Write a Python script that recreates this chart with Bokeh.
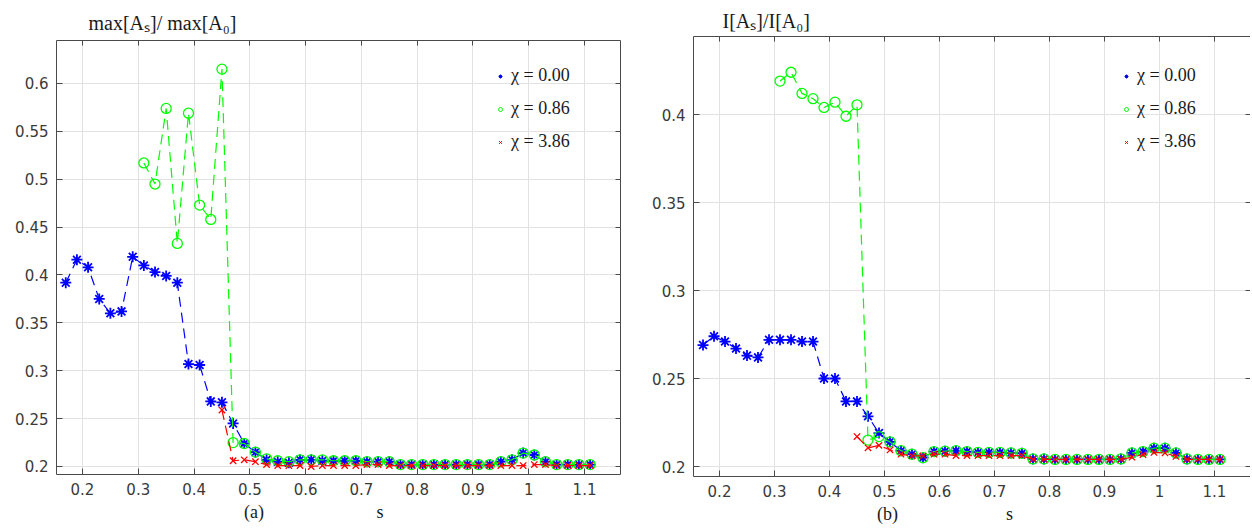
from bokeh.plotting import figure
from bokeh.models import (Range1d, LinearAxis, FixedTicker, CustomJSTickFormatter,
                          Legend, LegendItem)
from bokeh.layouts import row, column
from bokeh.embed import file_html
from bokeh.resources import INLINE

# ---------------- data ----------------
s_vals = [0.17, 0.19, 0.21, 0.23, 0.25, 0.27, 0.29, 0.31, 0.33, 0.35, 0.37, 0.39,
          0.41, 0.43, 0.45, 0.47, 0.49, 0.51, 0.53, 0.55, 0.57, 0.59, 0.61, 0.63,
          0.65, 0.67, 0.69, 0.71, 0.73, 0.75, 0.77, 0.79, 0.81, 0.83, 0.85, 0.87,
          0.89, 0.91, 0.93, 0.95, 0.97, 0.99, 1.01, 1.03, 1.05, 1.07, 1.09, 1.11]
s_green = s_vals[7:]    # starts at 0.31
s_red = s_vals[14:]     # starts at 0.45

# (a) max[A_s]/max[A_0]
a_blue = [0.392, 0.416, 0.408, 0.375, 0.360, 0.362, 0.419, 0.410, 0.403, 0.399, 0.392, 0.307,
          0.306, 0.268, 0.267, 0.245, 0.224, 0.215, 0.207, 0.205, 0.204, 0.207, 0.207, 0.206,
          0.206, 0.206, 0.206, 0.205, 0.205, 0.205, 0.202, 0.202, 0.202, 0.202, 0.202, 0.202,
          0.202, 0.202, 0.202, 0.205, 0.207, 0.214, 0.212, 0.205, 0.202, 0.202, 0.202, 0.202]
a_green = [0.517, 0.495, 0.574, 0.433, 0.569, 0.473, 0.458, 0.615, 0.225, 0.224, 0.215,
           0.208, 0.206, 0.205, 0.207, 0.207, 0.207, 0.206, 0.206, 0.206, 0.205, 0.205,
           0.205, 0.202, 0.202, 0.202, 0.202, 0.202, 0.202, 0.202, 0.202, 0.202, 0.205,
           0.207, 0.214, 0.212, 0.205, 0.202, 0.202, 0.202, 0.202]
a_red = [0.259, 0.206, 0.207, 0.205, 0.202, 0.201, 0.201, 0.201, 0.200, 0.201, 0.201, 0.201,
         0.201, 0.202, 0.202, 0.201, 0.201, 0.201, 0.201, 0.201, 0.201, 0.201, 0.201, 0.201,
         0.201, 0.201, 0.201, 0.201, 0.202, 0.202, 0.201, 0.201, 0.201, 0.201]

# (b) I[A_s]/I[A_0]
b_blue = [0.269, 0.274, 0.271, 0.267, 0.263, 0.262, 0.272, 0.272, 0.272, 0.271, 0.271, 0.250,
          0.250, 0.237, 0.237, 0.2285, 0.219, 0.214, 0.209, 0.207, 0.205, 0.2085, 0.2087, 0.209,
          0.2085, 0.208, 0.208, 0.208, 0.2077, 0.2075, 0.2043, 0.2043, 0.204, 0.204, 0.204, 0.204,
          0.204, 0.204, 0.2043, 0.2077, 0.2085, 0.2104, 0.2104, 0.2077, 0.2043, 0.204, 0.204, 0.204]
b_green = [0.419, 0.424, 0.412, 0.409, 0.404, 0.407, 0.399, 0.4055, 0.215, 0.217, 0.214,
           0.209, 0.207, 0.205, 0.2085, 0.2087, 0.209, 0.2085, 0.208, 0.208, 0.208, 0.2077,
           0.2075, 0.2043, 0.2043, 0.204, 0.204, 0.204, 0.204, 0.204, 0.204, 0.2043, 0.2077,
           0.2085, 0.2104, 0.2104, 0.2077, 0.2043, 0.204, 0.204, 0.204]
b_red = [0.217, 0.2106, 0.212, 0.2094, 0.207, 0.206, 0.206, 0.207, 0.207, 0.2062, 0.2062,
         0.2062, 0.2062, 0.2062, 0.2062, 0.2062, 0.204, 0.204, 0.204, 0.204, 0.204, 0.204,
         0.204, 0.204, 0.204, 0.2053, 0.2068, 0.208, 0.2077, 0.2057, 0.204, 0.204, 0.204, 0.204]

x_ticks = [0.2, 0.3, 0.4, 0.5, 0.6, 0.7, 0.8, 0.9, 1.0, 1.1]
a_yticks = [0.2, 0.25, 0.3, 0.35, 0.4, 0.45, 0.5, 0.55, 0.6]
b_yticks = [0.2, 0.25, 0.3, 0.35, 0.4]
legend_labels = ["χ = 0.00", "χ = 0.86", "χ = 3.86"]
titles = ["max[Aₛ]/ max[A₀]", "I[Aₛ]/I[A₀]"]
panel_tags = ["(a)", "(b)"]
x_name = "s"

BLUE, GREEN, RED = "#0000ff", "#00ff00", "#ff0000"
AXIS_C = "#4a4a4a"
TICK_C = "#3a3a3a"
GRID_C = "#e2e2e2"
SERIF = "Liberation Serif"
DASH = "10 6"
NB = "\u00a0"

fmt_code = "return String(Math.round(tick*100)/100);"


def make_panel(fw, fh, xr, yr, yticks, borders, ys, title, title_off, title_standoff,
               tag, gap_n, trail_n, legend_loc):
    bl, br, bt, bb = borders
    p = figure(frame_width=fw, frame_height=fh, x_range=Range1d(*xr), y_range=Range1d(*yr),
               output_backend="svg", toolbar_location=None,
               min_border_left=bl, min_border_right=br, min_border_top=bt,
               min_border_bottom=bb)
    p.outline_line_color = None
    p.background_fill_color = "white"
    p.border_fill_color = "white"

    for ax, ticks in ((p.xaxis[0], x_ticks), (p.yaxis[0], yticks)):
        ax.ticker = FixedTicker(ticks=ticks)
        ax.formatter = CustomJSTickFormatter(code=fmt_code)
        ax.major_tick_in = 6
        ax.major_tick_out = 0
        ax.minor_tick_line_color = None
        ax.axis_line_color = AXIS_C
        ax.axis_line_width = 1
        ax.major_tick_line_color = AXIS_C
        ax.major_label_text_font = "DejaVu Sans"
        ax.major_label_text_font_size = "15px"
        ax.major_label_text_color = TICK_C
        ax.major_label_standoff = 8

    # x label line: panel tag and the variable name
    xa = p.xaxis[0]
    xa.axis_label = tag + NB * gap_n + x_name + NB * trail_n
    xa.axis_label_text_font = SERIF
    xa.axis_label_text_font_size = "18px"
    xa.axis_label_text_font_style = "normal"
    xa.axis_label_text_color = "#1a1a1a"
    xa.axis_label_standoff = 4

    p.xgrid.grid_line_color = GRID_C
    p.ygrid.grid_line_color = GRID_C

    # box: top and right axes with inward ticks, no labels
    for place, ticks in (("above", x_ticks), ("right", yticks)):
        ax = LinearAxis(ticker=FixedTicker(ticks=ticks), major_label_text_font_size="0px",
                        major_label_text_color=None, major_tick_in=5, major_tick_out=0,
                        minor_tick_line_color=None, major_label_standoff=0,
                        axis_label_standoff=0,
                        axis_line_color=AXIS_C, major_tick_line_color=AXIS_C)
        p.add_layout(ax, place)

    p.title.text = title
    p.title.align = "left"
    p.title.offset = title_off
    p.title.text_font = SERIF
    p.title.text_font_size = "20px"
    p.title.text_font_style = "normal"
    p.title.text_color = "#1a1a1a"
    p.title.standoff = title_standoff

    yb, yg, yr_ = ys
    p.line(s_vals, yb, line_color=BLUE, line_width=1.2, line_dash=DASH)
    p.scatter(s_vals, yb, marker="asterisk", size=11, line_color=BLUE, line_width=1.8)
    p.line(s_green, yg, line_color=GREEN, line_width=1.2, line_dash=DASH)
    p.scatter(s_green, yg, marker="circle", size=10, line_color=GREEN, fill_color=None,
              line_width=1.3)
    p.line(s_red, yr_, line_color=RED, line_width=1.2, line_dash=DASH)
    p.scatter(s_red, yr_, marker="x", size=9, line_color=RED, line_width=1.3)

    # legend-only markers (small, like the reference); their one point lies off-range
    off = [xr[0] - 1.0]
    l1 = p.scatter(x=off, y=off, marker="asterisk", size=8, line_color=BLUE, line_width=1)
    l2 = p.scatter(x=off, y=off, marker="circle", size=7, line_color=GREEN, fill_color=None,
                   line_width=1)
    l3 = p.scatter(x=off, y=off, marker="x", size=9, line_color=RED, line_width=1)
    legend = Legend(items=[LegendItem(label=legend_labels[0], renderers=[l1]),
                           LegendItem(label=legend_labels[1], renderers=[l2]),
                           LegendItem(label=legend_labels[2], renderers=[l3])],
                    location=legend_loc, orientation="vertical",
                    border_line_color=None, background_fill_alpha=0, padding=0,
                    spacing=12, label_height=20, glyph_height=12, glyph_width=10,
                    label_standoff=6, label_text_font=SERIF, label_text_font_size="18px",
                    label_text_color="#1a1a1a", margin=0)
    p.add_layout(legend)
    return p


p1 = make_panel(564, 434, (0.1534, 1.1645), (0.19164, 0.6449), a_yticks,
                (56, 8, 40, 50), (a_blue, a_green, a_red), titles[0], 32, 14,
                panel_tags[0], 25, 11, (439, 322))
p2 = make_panel(557, 440, (0.1527, 1.1655), (0.19432, 0.44432), b_yticks,
                (65, 0, 36, 48), (b_blue, b_green, b_red), titles[1], 29, 10,
                panel_tags[1], 24, 12, (428, 324))

# each panel in its own column so the row does not align their frames
layout = row(column(p1), column(p2))
open("out.html", "w").write(file_html(layout, INLINE))
